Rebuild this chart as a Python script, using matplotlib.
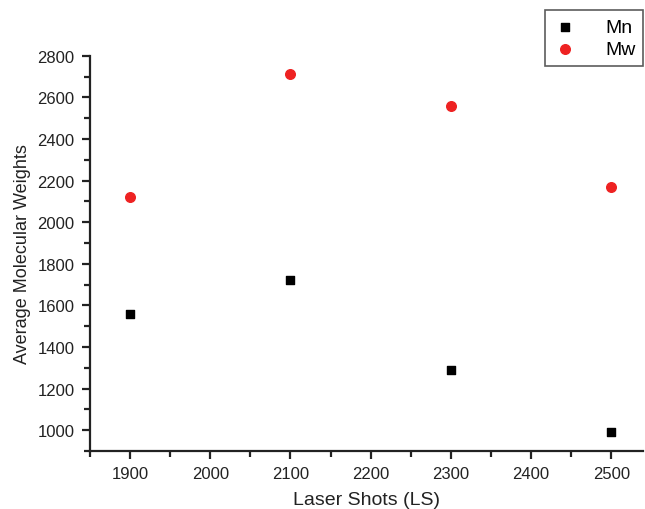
import numpy as np
import matplotlib.pyplot as plt
from matplotlib.ticker import MultipleLocator

plt.rcParams['font.family'] = ['Liberation Sans', 'DejaVu Sans']

# data
laserShots = [1900, 2100, 2300, 2500]
mn = [1560, 1720, 1290, 990]
mw = [2120, 2710, 2560, 2170]

fig = plt.figure(figsize=(6.45, 5.1), dpi=100)
ax = fig.add_axes([0.1395, 0.1137, 0.858, 0.775])

ax.scatter(laserShots, mn, marker='s', s=40, color='black', label='Mn', zorder=3)
ax.scatter(laserShots, mw, marker='o', s=48, color='#ee2222', label='Mw', zorder=3)

ax.set_xlim(1850, 2540)
ax.set_ylim(900, 2800)
ax.xaxis.set_major_locator(MultipleLocator(100))
ax.xaxis.set_minor_locator(MultipleLocator(50))
ax.yaxis.set_major_locator(MultipleLocator(200))
ax.yaxis.set_minor_locator(MultipleLocator(100))

for side in ['top', 'right']:
    ax.spines[side].set_visible(False)
for side in ['left', 'bottom']:
    ax.spines[side].set_linewidth(1.6)
    ax.spines[side].set_color('#222222')

ax.tick_params(which='major', direction='out', length=6, width=1.6, labelsize=12,
               colors='#222222', pad=5)
ax.tick_params(which='minor', direction='out', length=4, width=1.6, colors='#222222')

ax.set_xlabel('Laser Shots (LS)', fontsize=14, labelpad=7, color='#222222')
ax.set_ylabel('Average Molecular Weights', fontsize=13, labelpad=5, color='#222222')

leg = fig.legend(loc='upper right', bbox_to_anchor=(0.997, 0.978), borderaxespad=0,
                 fontsize=14, frameon=True, fancybox=False, edgecolor='#333333',
                 handletextpad=1.4, borderpad=0.4, labelspacing=0.25, handlelength=1.3)
leg.get_frame().set_linewidth(1.2)

plt.savefig('out.png', dpi=100)
